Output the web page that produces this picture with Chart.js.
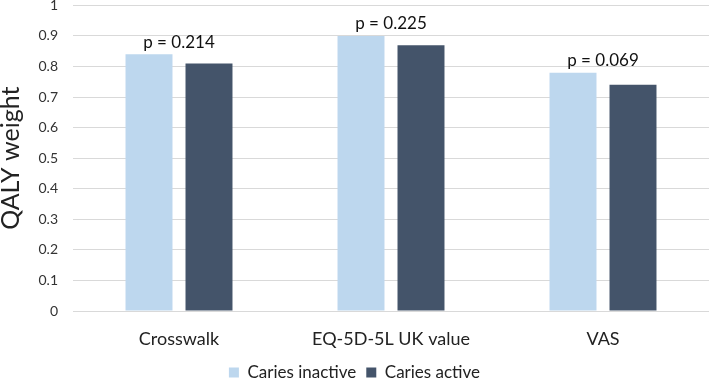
<!DOCTYPE html>
<html>
<head>
<meta charset="utf-8">
<script src="https://cdn.jsdelivr.net/npm/chart.js@4/dist/chart.umd.min.js"></script>
<style>
html,body{margin:0;padding:0;background:#fff;}
#wrap{width:709px;height:383px;}
</style>
</head>
<body>
<div id="wrap"><canvas id="c" width="709" height="383"></canvas></div>
<script>
const categories = ['Crosswalk', 'EQ-5D-5L UK value', 'VAS'];
const cariesInactive = [0.84, 0.90, 0.78];
const cariesActive = [0.81, 0.87, 0.74];
const pLabels = ['p = 0.214', 'p = 0.225', 'p = 0.069'];
const seriesNames = ['Caries inactive', 'Caries active'];

const FONT = 'Lato, "Open Sans", sans-serif';
const TXT = '#333333';

const pLabelPlugin = {
  id: 'pLabels',
  afterDatasetsDraw(chart) {
    const ctx = chart.ctx;
    const xs = chart.scales.x, ys = chart.scales.y;
    ctx.save();
    ctx.font = '17px ' + FONT;
    ctx.fillStyle = '#111';
    ctx.textAlign = 'center';
    ctx.textBaseline = 'middle';
    categories.forEach((c, i) => {
      const top = Math.max(cariesInactive[i], cariesActive[i]);
      ctx.fillText(pLabels[i], xs.getPixelForValue(i), ys.getPixelForValue(top) - 12);
    });
    ctx.restore();
  }
};

new Chart(document.getElementById('c'), {
  type: 'bar',
  data: {
    labels: categories,
    datasets: [
      { label: seriesNames[0], data: cariesInactive, backgroundColor: '#BDD7EE', barPercentage: 0.783, categoryPercentage: 0.566 },
      { label: seriesNames[1], data: cariesActive, backgroundColor: '#44546A', barPercentage: 0.783, categoryPercentage: 0.566 }
    ]
  },
  options: {
    responsive: false,
    animation: false,
    layout: { padding: { left: 0, right: 0, top: 0, bottom: -8 } },
    plugins: {
      tooltip: { enabled: false },
      legend: {
        position: 'bottom',
        labels: {
          boxWidth: 10, boxHeight: 10, padding: 10,
          color: '#222', font: { family: FONT, size: 17 }
        }
      }
    },
    scales: {
      x: {
        grid: { display: false, drawTicks: false },
        border: { display: true, color: '#D9D9D9', width: 1 },
        ticks: { color: '#222', padding: 17, font: { family: FONT, size: 18 } },
        afterFit(scale) { scale.height = 43; }
      },
      y: {
        min: 0, max: 1,
        grid: { color: '#D9D9D9', drawTicks: true, tickLength: 18, tickColor: 'rgba(0,0,0,0)', lineWidth: 1 },
        border: { display: false },
        ticks: {
          stepSize: 0.1, color: TXT, padding: -3, font: { family: FONT, size: 14 },
          callback: (v) => (v === 0 || v === 1) ? String(v) : v.toFixed(1)
        },
        title: { display: true, text: 'QALY weight', color: '#222', font: { family: FONT, size: 25, lineHeight: 0.9 }, padding: { top: 0, bottom: 0 } },
        afterFit(scale) { scale.width = 73; }
      }
    }
  },
  plugins: [pLabelPlugin]
});
</script>
</body>
</html>
